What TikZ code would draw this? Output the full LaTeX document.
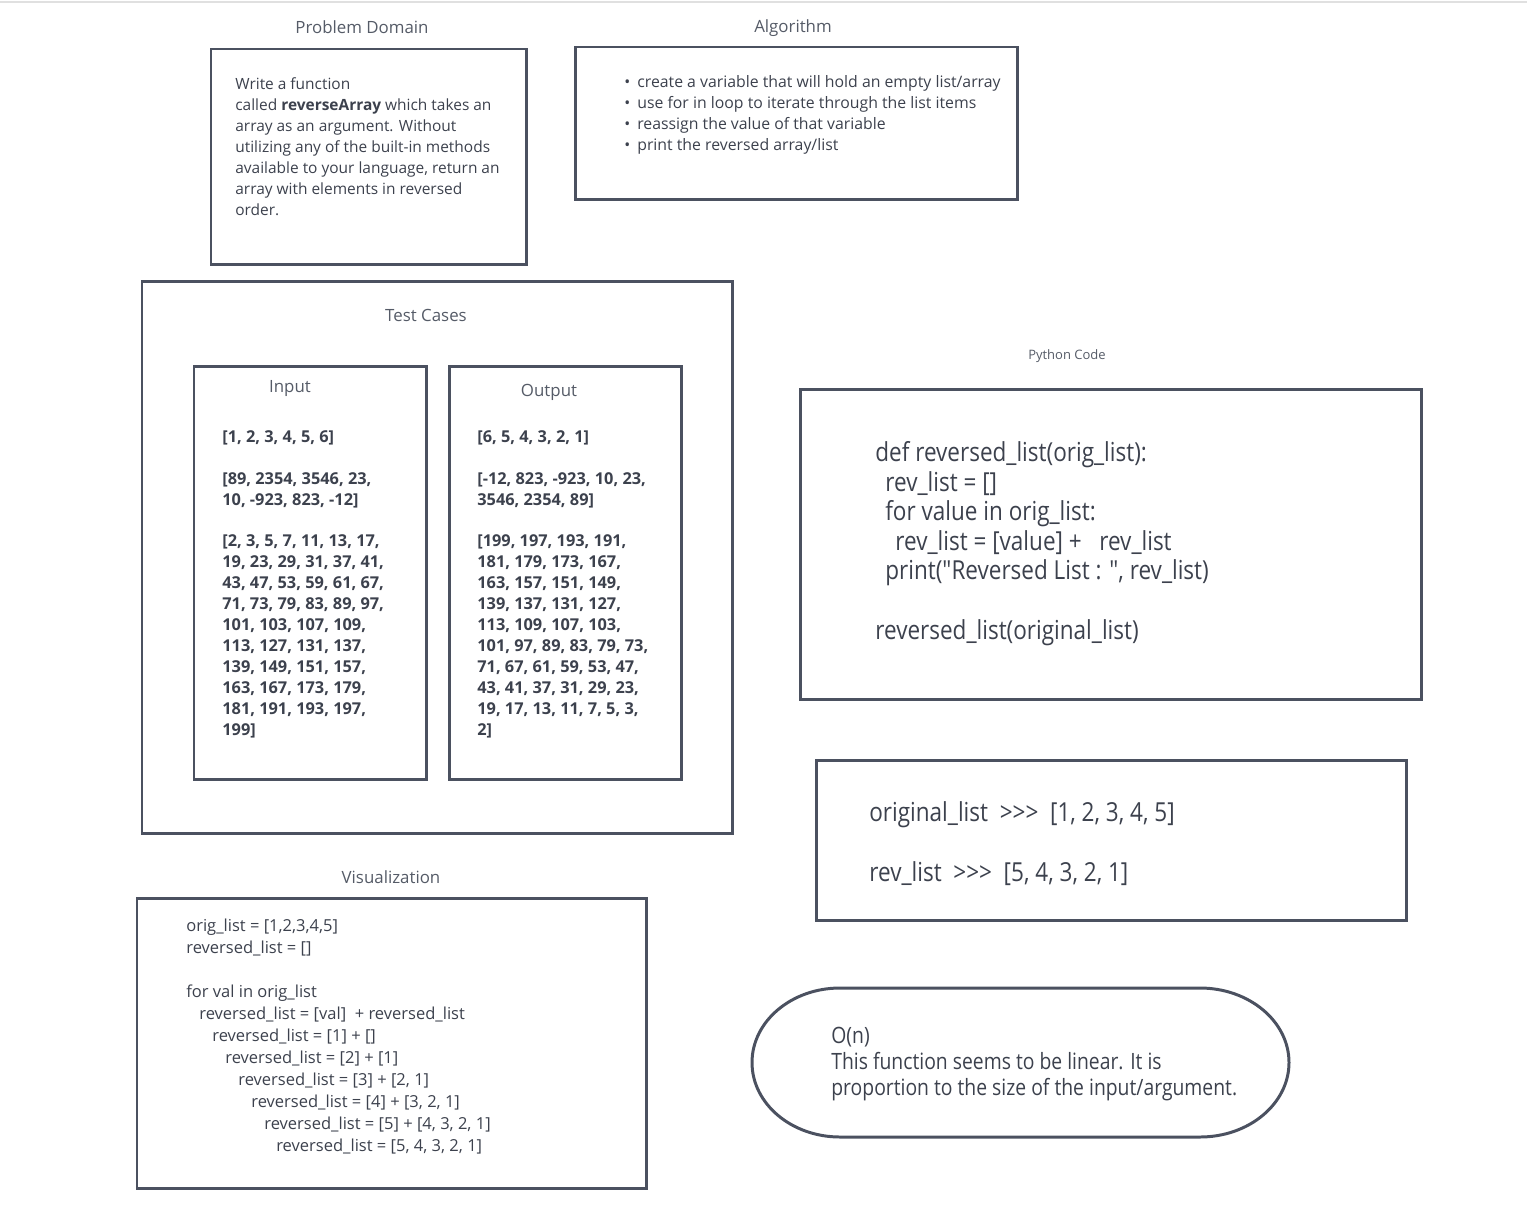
\documentclass[tikz,border=0pt]{standalone}
\usepackage{fontspec}
\setmainfont{Open Sans}
\newfontfamily\narrowfont[FakeStretch=0.86]{Open Sans}
\usetikzlibrary{positioning,fit}

\definecolor{boxline}{HTML}{4B5160}
\definecolor{inktext}{HTML}{3C414D}
\definecolor{softtext}{HTML}{555B67}

% multi-line texts are placed by the baseline of their last line
\tikzset{
  panel/.style={draw=boxline, line width=1.7pt, inner sep=0pt, rectangle},
  heading/.style={text=softtext, font=\fontsize{9.6}{11}\selectfont},
  body/.style={text=inktext, align=left, anchor=base west, inner sep=0pt,
    font=\fontsize{8.8}{11.9}\selectfont},
  testdata/.style={body, font=\fontsize{9.3}{11.9}\selectfont\bfseries},
  codetext/.style={body, font=\narrowfont\fontsize{14.9}{16.8}\selectfont},
  vistext/.style={body, font=\fontsize{9.4}{12.5}\selectfont},
}

\begin{document}
\begin{tikzpicture}[x=0.02cm, y=-0.02cm]
\useasboundingbox (0,0) rectangle (1527,1204);
\draw[black!12, line width=0.8pt] (0,2) -- (1527,2);

% problem domain
\node[heading] (domaintitle) at (362,27) {Problem Domain};
\node[panel, fit={(211,49) (526,264)}] (domain) {};
\node[body] (domaintext) at (235,215) {Write a function\\
called \textbf{reverseArray} which takes an\\
array as an argument. Without\\
utilizing any of the built-in methods\\
available to your language, return an\\
array with elements in reversed\\
order.};

% algorithm
\node[heading] (algotitle) at (793,28) {Algorithm};
\node[panel, fit={(575,47) (1017,199)}] (algo) {};
\node[body, font=\fontsize{9}{11.9}\selectfont] (algotext) at (624,150) {\makebox[2.6mm][l]{•}create a variable that will hold an empty list/array\\
\makebox[2.6mm][l]{•}use for in loop to iterate through the list items\\
\makebox[2.6mm][l]{•}reassign the value of that variable\\
\makebox[2.6mm][l]{•}print the reversed array/list};

% test cases
\node[panel, fit={(142,281) (732,833)}] (tests) {};
\node[heading] (teststitle) at (426,315) {Test Cases};
\node[panel, fit={(194,366) (426,779)}] (inbox) {};
\node[panel, fit={(449,366) (681,779)}] (outbox) {};
\node[heading] (intitle) at (290,388) {Input};
\node[heading] (outtitle) at (549,392) {Output};
\node[testdata] (indata) at (222,735) {[1, 2, 3, 4, 5, 6]\\[11.9pt]
[89, 2354, 3546, 23,\\
10, -923, 823, -12]\\[11.9pt]
[2, 3, 5, 7, 11, 13, 17,\\
19, 23, 29, 31, 37, 41,\\
43, 47, 53, 59, 61, 67,\\
71, 73, 79, 83, 89, 97,\\
101, 103, 107, 109,\\
113, 127, 131, 137,\\
139, 149, 151, 157,\\
163, 167, 173, 179,\\
181, 191, 193, 197,\\
199]};
\node[testdata] (outdata) at (477,735) {[6, 5, 4, 3, 2, 1]\\[11.9pt]
[-12, 823, -923, 10, 23,\\
3546, 2354, 89]\\[11.9pt]
[199, 197, 193, 191,\\
181, 179, 173, 167,\\
163, 157, 151, 149,\\
139, 137, 131, 127,\\
113, 109, 107, 103,\\
101, 97, 89, 83, 79, 73,\\
71, 67, 61, 59, 53, 47,\\
43, 41, 37, 31, 29, 23,\\
19, 17, 13, 11, 7, 5, 3,\\
2]};

% python code
\node[text=softtext, font=\fontsize{7.4}{9}\selectfont] (codetitle) at (1067,356) {Python Code};
\node[panel, fit={(800,389) (1421,699)}] (code) {};
\node[codetext] (codelines) at (875,639) {def reversed\_list(orig\_list):\\
\hspace*{2mm}rev\_list = []\\
\hspace*{2mm}for value in orig\_list:\\
\hspace*{4mm}rev\_list = [value] +\ \ \ rev\_list\\
\hspace*{2mm}print("Reversed List : ", rev\_list)\\[16.8pt]
reversed\_list(original\_list)};

% printed result
\node[panel, fit={(816,760) (1406,920)}] (result) {};
\node[codetext] (resultlines) at (869,881) {original\_list\ \ >>>\ \ [1, 2, 3, 4, 5]\\[16.8pt]
rev\_list\ \ >>>\ \ [5, 4, 3, 2, 1]};

% visualization
\node[heading] (vistitle) at (391,877) {Visualization};
\node[panel, fit={(137,898) (646,1188)}] (vis) {};
\node[vistext] (vislines) at (186,1151) {orig\_list = [1,2,3,4,5]\\
reversed\_list = []\\[12.5pt]
for val in orig\_list\\
\hspace*{2.6mm}reversed\_list = [val]\ \ + reversed\_list\\
\hspace*{5.2mm}reversed\_list = [1] + []\\
\hspace*{7.8mm}reversed\_list = [2] + [1]\\
\hspace*{10.4mm}reversed\_list = [3] + [2, 1]\\
\hspace*{13mm}reversed\_list = [4] + [3, 2, 1]\\
\hspace*{15.6mm}reversed\_list = [5] + [4, 3, 2, 1]\\
\hspace*{18mm}reversed\_list = [5, 4, 3, 2, 1]};

% complexity
\draw[draw=boxline, line width=1.7pt] (840,988) -- (1200,988)
  arc[start angle=-90, end angle=90, x radius=89, y radius=74.5]
  -- (840,1137)
  arc[start angle=90, end angle=270, x radius=88, y radius=74.5] -- cycle;
\node[body, font=\narrowfont\fontsize{12.8}{14.7}\selectfont] (bigo) at (831,1095) {O(n)\\
This function seems to be linear. It is\\
proportion to the size of the input/argument.};
\end{tikzpicture}
\end{document}
